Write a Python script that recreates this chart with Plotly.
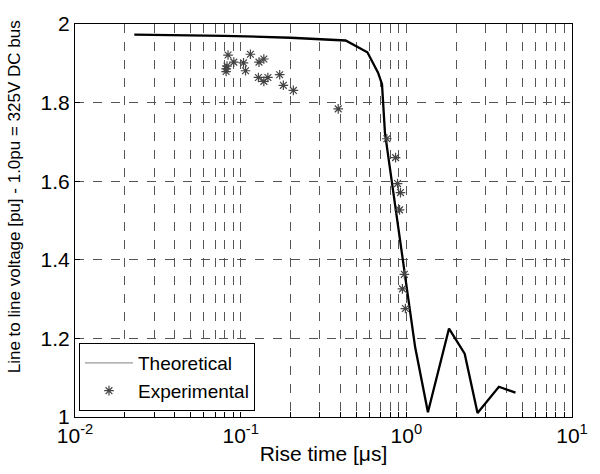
import numpy as np
import plotly.graph_objects as go

# Theoretical curve (rise time in us, voltage in pu)
theo_t = [0.0228, 0.08, 0.2, 0.43, 0.582, 0.675, 0.713, 0.743, 1.027, 1.13, 1.35, 1.81, 2.25, 2.69, 3.62, 4.56]
theo_v = [1.973, 1.970, 1.965, 1.958, 1.928, 1.876, 1.847, 1.723, 1.302, 1.178, 1.012, 1.225, 1.161, 1.010, 1.077, 1.062]

# Experimental points
exp_t = [0.0839, 0.0827, 0.0817, 0.0817, 0.0909, 0.104, 0.107, 0.1145, 0.129, 0.138,
         0.128, 0.138, 0.146, 0.172, 0.181, 0.208, 0.388, 0.763, 0.861, 0.885,
         0.922, 0.910, 0.973, 0.947, 0.987]
exp_v = [1.921, 1.893, 1.886, 1.879, 1.903, 1.901, 1.881, 1.923, 1.903, 1.911,
         1.864, 1.854, 1.864, 1.871, 1.844, 1.831, 1.784, 1.708, 1.660, 1.594,
         1.571, 1.527, 1.363, 1.326, 1.276]

y_ticks = [1, 1.2, 1.4, 1.6, 1.8, 2]
y_labels = ["1", "1.2", "1.4", "1.6", "1.8", "2"]
decades = [-2, -1, 0, 1]

FONT = "Liberation Sans, Arial, sans-serif"

x_tickvals = []
x_ticktext = []
for d in decades:
    for m in range(1, 10):
        if d == 1 and m > 1:
            break
        x_tickvals.append(m * 10.0 ** d)
        x_ticktext.append(f"10<sup>{d}</sup>" if m == 1 else "")

fig = go.Figure()
fig.add_trace(go.Scatter(x=theo_t, y=theo_v, mode="lines", showlegend=False,
                         line=dict(color="black", width=2.3)))
fig.add_trace(go.Scatter(x=[None], y=[None], mode="lines", name="Theoretical",
                         line=dict(color="#999999", width=1.2)))
fig.add_trace(go.Scatter(x=exp_t, y=exp_v, mode="markers", name="Experimental",
                         marker=dict(symbol="asterisk-open", size=8, color="#444444",
                                     line=dict(color="#444444", width=1.2))))

fig.update_layout(
    width=600, height=474,
    margin=dict(l=75, r=17, t=18, b=53),
    paper_bgcolor="white", plot_bgcolor="white",
    font=dict(family=FONT, size=21, color="black"),
    legend=dict(x=0.008, y=0.015, xanchor="left", yanchor="bottom",
                bgcolor="white", bordercolor="black", borderwidth=1,
                font=dict(size=19), tracegroupgap=0, itemwidth=48,
                traceorder="normal"),
    annotations=[dict(text="Line to line voltage [pu] - 1.0pu = 325V DC bus",
                      textangle=-90, xref="paper", yref="paper",
                      x=-0.12, y=0.56, xanchor="center", yanchor="middle",
                      showarrow=False, font=dict(size=17))],
)
fig.update_xaxes(type="log", range=[-2, 1], tickvals=x_tickvals, ticktext=x_ticktext,
                 showgrid=True, gridcolor="#555555", griddash="dash", gridwidth=1,
                 showline=True, linecolor="black", linewidth=1, mirror=True,
                 ticks="inside", ticklen=5, tickcolor="black",
                 title=dict(text="Rise time [μs]", standoff=0, font=dict(size=21)),
                 tickfont=dict(size=21), zeroline=False)
fig.update_yaxes(range=[1, 2], tickvals=y_ticks, ticktext=y_labels,
                 showgrid=True, gridcolor="#555555", griddash="dash", gridwidth=1,
                 showline=True, linecolor="black", linewidth=1, mirror=True,
                 ticks="inside", ticklen=5, tickcolor="black",
                 tickfont=dict(size=21), zeroline=False)

fig.write_html("out.html")
